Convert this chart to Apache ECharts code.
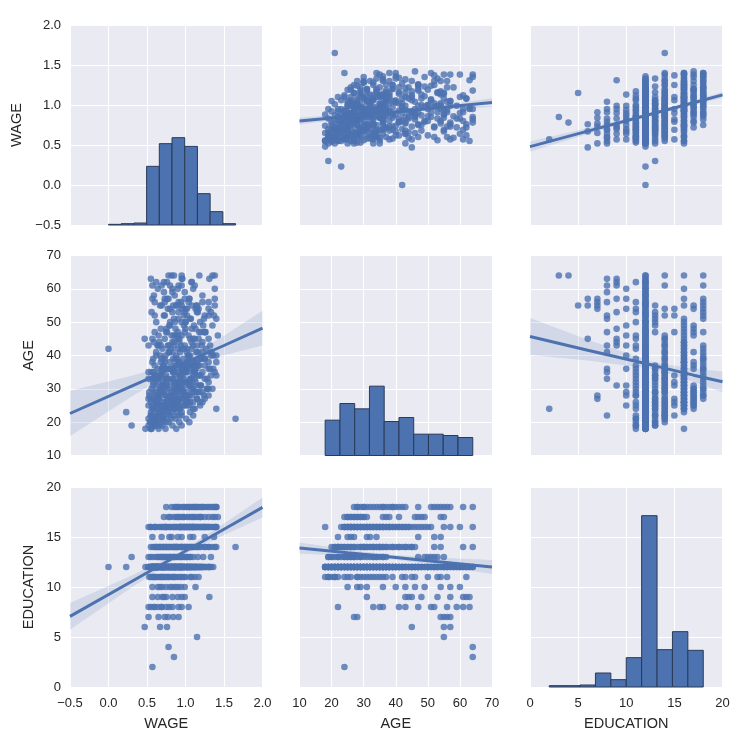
<!DOCTYPE html>
<html><head><meta charset="utf-8">
<script src="https://cdn.jsdelivr.net/npm/echarts@6/dist/echarts.min.js"></script>
<style>html,body{margin:0;padding:0;background:#fff}#c{width:750px;height:750px}</style>
</head><body><div id="c"></div>
<script>
// ---------------- data ----------------
const VARS = ['WAGE', 'AGE', 'EDUCATION'];
const AXIS_MIN = [-0.5, 10, 0];
const AXIS_MAX = [2.0, 70, 20];
const AXIS_STEP = [0.5, 10, 5];

// observations grouped by education level (ages and log-wages, same order)
const EDU_LEVELS = [2, 3, 4, 5, 6, 7, 8, 9, 10, 11, 12, 13, 14, 15, 16, 17, 18];
const AGES_BY_EDU = [
  [24],
  [64],
  [64],
  [55],
  [57, 55, 45],
  [27, 28, 54, 55, 56, 57],
  [22, 33, 35, 36, 41, 43, 47, 51, 52, 56, 59, 61, 63],
  [31, 43, 44, 45, 48, 53, 57, 61, 62, 63],
  [25, 28, 29, 31, 36, 40, 43, 46, 49, 54, 57, 60],
  [18, 19, 19, 20, 21, 21, 25, 28, 29, 30, 31, 32, 33, 34, 35, 37, 42, 43, 45, 46, 50, 53, 54, 56, 62, 28,
   22, 24, 26, 36, 39],
  [18,18,18, 19,19,19,19, 20,20,20,20,20, 21,21,21,21,21, 22,22,22,22,22, 23,23,23,23,23, 24,24,24,24,24, 25,25,25,25,25, 26,26,26,26,26, 27,27,27,27,27, 28,28,28,28,28, 29,29,29,29,29, 30,30,30,30,30, 31,31,31,31,31, 32,32,32,32,32, 33,33,33,33,33, 34,34,34,34,34, 35,35,35,35,35, 36,36,36,36,36, 37,37,37,37, 38,38,38,38, 39,39,39,39, 40,40,40,40, 41,41,41, 42,42,42,42, 43,43,43, 44,44,44, 45,45,45, 46,46,46, 47,47,47, 48,48,48, 49,49, 50,50,50, 51,51, 52,52,52, 53,53, 54,54, 55,55,55, 56,56, 57,57, 58,58, 59,59, 60,60,60, 61,61, 62,62, 63,63, 64,64,
   18,18, 19,19, 20,20, 21,21, 22,22, 23,23, 24,24, 25,25, 26,26, 27,27, 28,28, 29,29, 30,30, 31,31, 32,32, 33,33, 34,34, 35,35, 36,36, 37,37, 38,38, 39, 40, 41, 43, 45, 47, 50, 53, 56, 58, 62],
  [19, 19, 20, 21, 22, 23, 24, 24, 25, 26, 27, 28, 29, 29, 31, 32, 33, 34, 35, 36, 37, 47, 49, 50, 51, 52, 53, 55, 33, 26,
   20, 22, 25, 27, 30, 34, 36],
  [20, 21, 21, 22, 22, 23, 23, 24, 24, 25, 25, 26, 26, 29, 29, 30, 30, 31, 31, 32, 32, 33, 33, 34, 34, 35, 35, 36, 36, 37, 37, 39, 39, 40, 41, 41, 42, 43, 44, 45, 46, 52, 54, 61, 64,
   22, 27, 28, 30, 33, 35, 38, 43, 45, 27],
  [22, 25, 26, 27, 31, 32, 34, 47, 52, 54],
  [18, 24, 24, 25, 25, 26, 26, 27, 27, 28, 28, 29, 29, 30, 30, 31, 31, 32, 32, 33, 33, 34, 34, 35, 35, 36, 36, 37, 37, 38, 38, 39, 39, 40, 40, 41, 41, 42, 42, 43, 43, 44, 44, 48, 49, 50, 51, 55, 60, 64, 27, 33, 35, 30, 26,
   23, 24, 25, 26, 28, 29, 31, 32, 34, 36, 38, 45, 46, 47, 57],
  [24, 25, 25, 26, 27, 27, 28, 28, 29, 30, 30, 36, 37, 38, 41, 46, 47, 49, 54, 55,
   26, 29, 31, 48],
  [27, 28, 28, 29, 30, 30, 31, 32, 34, 35, 36, 37, 38, 39, 40, 42, 43, 47, 51, 52, 54, 55, 56, 57, 61, 64,
   33, 36, 39, 41, 53]
];
const WAGES_BY_EDU = [
  [0.57],
  [0.85],
  [0.78],
  [1.15],
  [0.76, 0.67, 0.47],
  [0.52, 0.65, 0.77, 0.84, 0.91, 0.73],
  [0.55, 0.64, 0.59, 0.69, 0.79, 0.52, 0.75, 0.91, 0.60, 1.04, 0.83, 0.69, 0.95],
  [0.70, 0.64, 0.83, 0.90, 0.75, 0.99, 0.57, 0.95, 0.72, 1.31],
  [0.57, 0.64, 0.70, 0.75, 0.83, 0.67, 0.94, 0.87, 0.80, 1.13, 0.99, 0.90],
  [0.55, 0.60, 0.66, 0.62, 0.70, 0.57, 0.75, 0.80, 0.68, 0.87, 0.72, 0.93, 0.98, 0.60, 0.85, 1.06, 0.90, 0.78, 1.12, 0.95, 1.00, 0.83, 1.17, 0.73, 1.08, 0.53,
   0.64, 0.58, 0.85, 0.77, 0.69],
  [0.56,0.65,0.74, 0.52,0.70,0.83,0.61, 0.58,0.66,0.78,0.92,0.54, 0.63,0.72,0.87,1.01,0.60, 0.68,0.57,0.80,0.95,0.75, 0.23,0.64,0.88,1.06,0.71, 0.77,0.59,0.93,1.12,0.69, 0.62,0.84,0.98,0.73,1.19, 0.70,0.90,0.55,1.03,0.81, 0.76,0.95,0.66,1.15,0.86, 0.60,0.82,1.08,0.91,1.24, 0.72,0.97,0.53,0.87,1.02, 0.79,0.94,1.10,0.67,0.88, 0.62,0.85,1.04,1.20,0.76, 0.90,0.71,1.13,0.99,0.58, 0.82,1.07,0.66,0.93,1.28, 0.75,0.96,1.16,0.87,0.61, 0.69,1.01,0.84,1.22,0.92, 0.78,1.09,0.95,0.64,1.32, 0.86,1.03,0.72,1.18, 0.91,0.68,1.12,0.80, 0.58,0.97,1.25,0.84, 0.88,1.06,0.74,1.36, 0.93,0.62,1.14, 0.00,0.81,1.02,0.70, 0.99,0.77,1.21, 0.85,1.08,0.59, 0.92,0.73,1.17, 1.04,0.82,0.65, 0.90,1.26,0.76, 0.68,1.00,0.87, 1.11,0.79, 0.95,0.62,1.19, 0.85,1.07, 0.73,0.98,1.30, 0.56,0.91, 1.02,0.80, 0.69,1.14,0.88, 0.94,0.60, 1.05,0.78, 0.86,1.22, 0.72,0.99, 0.64,1.10,0.83, 0.91,0.57, 1.08,0.76, 0.55,0.96, 0.82,1.18,
   0.48,0.88, 0.95,0.58, 0.70,1.05, 0.52,0.81, 0.62,1.10, 0.55,0.79, 0.64,0.85, 0.52,0.91, 0.63,1.22, 0.57,1.02, 0.69,0.98, 0.62,1.14, 0.56,1.30, 0.70,0.95, 0.64,1.05, 0.57,0.74, 0.68,1.33, 0.56,1.12, 0.71,0.87, 0.60,0.95, 0.57,1.02, 0.73, 0.62, 0.83, 0.64, 0.57, 0.60, 0.80, 1.16, 1.30, 0.59, 0.62],
  [0.30, 0.62, 0.55, 0.70, 0.66, 0.78, 0.58, 0.85, 0.73, 0.90, 0.64, 0.82, 0.96, 0.69, 0.88, 1.02, 0.76, 0.93, 1.10, 0.80, 1.16, 0.99, 1.23, 0.86, 1.06, 0.72, 1.33, 0.95, 0.52, 1.06,
   0.75, 0.92, 1.02, 0.80, 0.85, 0.68, 1.00],
  [0.60, 1.65, 0.72, 0.55, 0.85, 0.67, 0.95, 0.78, 1.40, 0.62, 0.88, 1.02, 0.74, 0.82, 1.10, 0.68, 0.97, 1.18, 0.58, 0.90, 1.05, 0.76, 1.25, 0.93, 0.64, 1.12, 0.84, 1.30, 0.99, 0.71, 1.08, 0.87, 1.20, 1.03, 0.79, 1.34, 0.95, 1.15, 0.66, 1.06, 0.90, 1.25, 1.00, 0.80, 1.38,
   0.70, 0.88, 1.00, 0.75, 1.08, 0.95, 1.15, 0.85, 1.30, 0.62],
  [0.57, 0.69, 0.79, 0.90, 1.06, 0.82, 1.10, 1.25, 1.37, 0.95],
  [0.55, 0.70, 0.92, 0.80, 1.05, 0.62, 0.88, 0.97, 1.15, 0.75, 1.01, 0.86, 1.22, 0.94, 1.08, 0.72, 1.12, 0.99, 1.30, 0.84, 1.06, 1.18, 0.93, 1.02, 1.38, 0.81, 1.14, 1.25, 0.96, 1.09, 1.40, 0.89, 1.20, 1.04, 1.33, 0.78, 1.16, 1.27, 0.98, 1.10, 0.68, 1.22, 0.92, 1.13, 1.35, 1.00, 1.24, 1.08, 1.38, 0.95, 0.55, 0.60, 0.52, 1.28, 1.19,
   0.75, 1.10, 0.66, 0.99, 1.30, 0.60, 0.93, 0.75, 1.40, 1.02, 0.73, 1.10, 0.85, 1.25, 1.05],
  [0.85, 0.98, 0.72, 1.10, 0.92, 1.25, 0.80, 1.05, 1.18, 0.95, 1.35, 1.12, 0.88, 1.30, 1.02, 1.42, 1.20, 0.98, 1.15, 1.38,
   0.78, 0.90, 1.20, 1.08],
  [0.82, 1.00, 0.75, 1.15, 0.90, 1.28, 1.05, 0.86, 1.20, 0.98, 1.36, 1.10, 0.92, 1.25, 1.40, 1.08, 1.32, 1.18, 1.40, 1.02, 1.30, 0.88, 1.22, 1.38, 1.12, 1.35,
   1.12, 0.96, 1.05, 1.22, 1.15]
];

// diagonal histograms: 10 equal bins over [lo, hi], counts
const HIST_WAGE = [1, 2, 3, 88, 122, 131, 118, 47, 20, 2];
const HIST_AGE = [53, 78, 70, 104, 51, 57, 32, 32, 30, 27];
const HIST_EDU = [2, 2, 3, 21, 11, 44, 257, 56, 83, 55];
const HIST_RANGE_WAGE = [0, 1.65];
const HIST_RANGE_AGE = [18, 64];
const HIST_RANGE_EDU = [2, 18];

// regression fits with 95% bands: [x, fit, low, high]
const FIT_WAGE_ON_AGE = [[10, 0.800, 0.755, 0.845], [25, 0.857, 0.832, 0.882], [37, 0.903, 0.886, 0.920], [50, 0.953, 0.927, 0.979], [70, 1.030, 0.976, 1.084]];
const FIT_WAGE_ON_EDU = [[0, 0.480, 0.415, 0.545], [6, 0.674, 0.636, 0.712], [13, 0.900, 0.883, 0.917], [17, 1.029, 1.003, 1.055], [20, 1.126, 1.088, 1.164]];
const FIT_AGE_ON_WAGE = [[-0.5, 22.6, 15.8, 29.4], [0.3, 30.8, 27.7, 33.9], [0.92, 37.1, 36.1, 38.1], [1.5, 43.0, 40.1, 45.9], [2.0, 48.2, 43.0, 53.4]];
const FIT_AGE_ON_EDU = [[0, 45.7, 40.15, 51.25], [6, 41.6, 38.5, 44.7], [13, 36.9, 35.9, 37.9], [17, 34.1, 32.15, 36.05], [20, 32.1, 29.0, 35.2]];
const FIT_EDU_ON_WAGE = [[-0.5, 7.06, 5.73, 8.39], [0.3, 10.55, 9.94, 11.16], [0.92, 13.25, 13.03, 13.47], [1.5, 15.78, 15.2, 16.36], [2.0, 17.96, 16.96, 18.96]];
const FIT_EDU_ON_AGE = [[10, 13.9, 13.34, 14.46], [25, 13.42, 13.1, 13.74], [37, 13.05, 12.83, 13.27], [50, 12.63, 12.29, 12.97], [70, 12.0, 11.3, 12.7]];

// ---------------- layout / style ----------------
const COL_LEFT = [70, 299.5, 530];
const ROW_TOP = [25, 255.5, 487];
const PW = 192.5, PH = 200;
const TEXT = '#262626';
const BLUE = '#4C72B0';
const FONT = 'Liberation Sans, Arial, Helvetica, sans-serif';
const HIST_YMAX = 300;

const records = [];
EDU_LEVELS.forEach((e, k) => {
  const a = AGES_BY_EDU[k], w = WAGES_BY_EDU[k];
  const n = Math.min(a.length, w.length);
  for (let i = 0; i < n; i++) records.push([w[i], a[i], e]);
});
const HISTS = [HIST_WAGE, HIST_AGE, HIST_EDU];
const HIST_RANGES = [HIST_RANGE_WAGE, HIST_RANGE_AGE, HIST_RANGE_EDU];
const FITS = {
  '0-1': FIT_WAGE_ON_AGE, '0-2': FIT_WAGE_ON_EDU,
  '1-0': FIT_AGE_ON_WAGE, '1-2': FIT_AGE_ON_EDU,
  '2-0': FIT_EDU_ON_WAGE, '2-1': FIT_EDU_ON_AGE
};
const LABEL_FMT = [
  v => v.toFixed(1).replace('-', '\u2212'),
  v => String(Math.round(v)),
  v => String(Math.round(v))
];

function axisCfg(v, gi, showLabel, dir) {
  return {
    gridIndex: gi, type: 'value',
    min: AXIS_MIN[v], max: AXIS_MAX[v], interval: AXIS_STEP[v],
    axisLine: { show: false }, axisTick: { show: false },
    splitLine: { show: true, lineStyle: { color: '#ffffff', width: 1 } },
    axisLabel: {
      show: showLabel, color: TEXT, fontSize: 13, fontFamily: FONT,
      margin: dir === 'x' ? 10 : 9, formatter: LABEL_FMT[v], showMinLabel: true, showMaxLabel: true
    },
    name: showLabel ? VARS[v] : '',
    nameLocation: 'middle',
    nameGap: dir === 'x' ? 29 : (v === 0 ? 46 : 34),
    nameTextStyle: { color: TEXT, fontSize: 14.5, fontFamily: FONT }
  };
}

const grid = [], xAxis = [], yAxis = [], series = [];
for (let r = 0; r < 3; r++) {
  for (let c = 0; c < 3; c++) {
    const i = r * 3 + c;
    grid.push({ left: COL_LEFT[c], top: ROW_TOP[r], width: PW, height: PH, show: true,
      backgroundColor: '#EAEAF2', borderWidth: 0 });
    xAxis.push(axisCfg(c, i, r === 2, 'x'));
    yAxis.push(axisCfg(r, i, c === 0, 'y'));
  }
}
// hidden count axes for diagonal histograms
for (let k = 0; k < 3; k++) {
  yAxis.push({ gridIndex: k * 4, type: 'value', min: 0, max: HIST_YMAX, show: false, position: 'right',
    splitLine: { show: false } });
}

for (let r = 0; r < 3; r++) {
  for (let c = 0; c < 3; c++) {
    const i = r * 3 + c;
    if (r === c) {
      const counts = HISTS[r], rg = HIST_RANGES[r];
      const w = (rg[1] - rg[0]) / counts.length;
      series.push({
        type: 'custom', xAxisIndex: i, yAxisIndex: 9 + r, silent: true, z: 2,
        data: counts.map((n, j) => [rg[0] + j * w, rg[0] + (j + 1) * w, n]),
        encode: { x: [0, 1], y: 2 },
        renderItem: (params, api) => {
          const p0 = api.coord([api.value(0), 0]);
          const p1 = api.coord([api.value(1), api.value(2)]);
          return { type: 'rect',
            shape: { x: p0[0], y: p1[1], width: p1[0] - p0[0], height: p0[1] - p1[1] },
            style: { fill: BLUE, stroke: '#2B3A57', lineWidth: 1 } };
        }
      });
    } else {
      series.push({
        type: 'scatter', xAxisIndex: i, yAxisIndex: i, silent: true, z: 2,
        data: records.map(d => [d[c], d[r]]),
        symbolSize: 6.6,
        itemStyle: { color: BLUE, opacity: 0.8 }
      });
      const fit = FITS[r + '-' + c];
      series.push({
        type: 'custom', xAxisIndex: i, yAxisIndex: i, silent: true, z: 3, clip: true,
        data: [[fit[2][0], fit[2][1]]],
        renderItem: (params, api) => {
          const pts = [];
          fit.forEach(f => pts.push(api.coord([f[0], f[2]])));
          for (let j = fit.length - 1; j >= 0; j--) pts.push(api.coord([fit[j][0], fit[j][3]]));
          return { type: 'polygon', shape: { points: pts }, style: { fill: 'rgba(76,114,176,0.15)' } };
        }
      });
      series.push({
        type: 'line', xAxisIndex: i, yAxisIndex: i, silent: true, z: 4,
        data: fit.map(f => [f[0], f[1]]),
        showSymbol: false, symbol: 'none',
        lineStyle: { color: BLUE, width: 3 }
      });
    }
  }
}

const chart = echarts.init(document.getElementById('c'), null, { renderer: 'canvas' });
chart.setOption({ animation: false, backgroundColor: '#ffffff', grid, xAxis, yAxis, series });
</script>
</body></html>
